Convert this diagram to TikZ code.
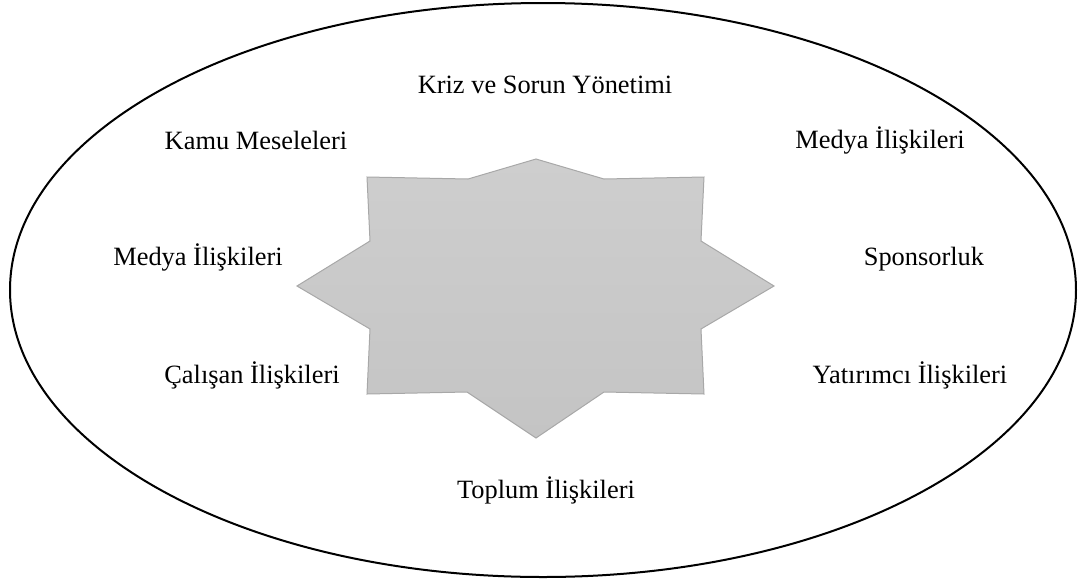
\documentclass[tikz,border=0pt]{standalone}
\usepackage{fontspec}
\setmainfont{Liberation Serif}
\usepackage{tikz}

\definecolor{startop}{RGB}{206,206,206}
\definecolor{starbot}{RGB}{196,196,196}
\definecolor{starline}{RGB}{168,168,168}

\begin{document}
\begin{tikzpicture}[
				x=0.5pt, y=-0.5pt,
				area/.style={
					anchor=base,
					inner sep=0pt,
					font=\fontsize{13.2}{16}\selectfont
				},
				frame/.style={draw=black, line width=1pt},
				starfill/.style={draw=starline, line width=0.5pt, top color=startop, bottom color=starbot}
				]
				\useasboundingbox (0,0) rectangle (1084,580);
				\draw[frame] (543,290) ellipse [x radius=533, y radius=287];
				\draw[starfill] (536,159) -- (468,179) -- (367,177) -- (370,241) -- (297,286)
					-- (370,329) -- (367,394) -- (467,392) -- (536,438) -- (604,392)
					-- (704,394) -- (701,329) -- (774,286) -- (701,241) -- (704,177)
					-- (604,179) -- cycle;
				
				\node[area] (kriz) at (545,93) {Kriz ve Sorun Yönetimi};
				\node[area] (kamu) at (256,149) {Kamu Meseleleri};
				\node[area] (medyaR) at (880,148) {Medya İlişkileri};
				\node[area] (medyaL) at (198,265) {Medya İlişkileri};
				\node[area] (sponsor) at (924,265) {Sponsorluk};
				\node[area] (calisan) at (252,383) {Çalışan İlişkileri};
				\node[area] (yatirim) at (910,383) {Yatırımcı İlişkileri};
				\node[area] (toplum) at (546,498) {Toplum İlişkileri};
\end{tikzpicture}
\end{document}
